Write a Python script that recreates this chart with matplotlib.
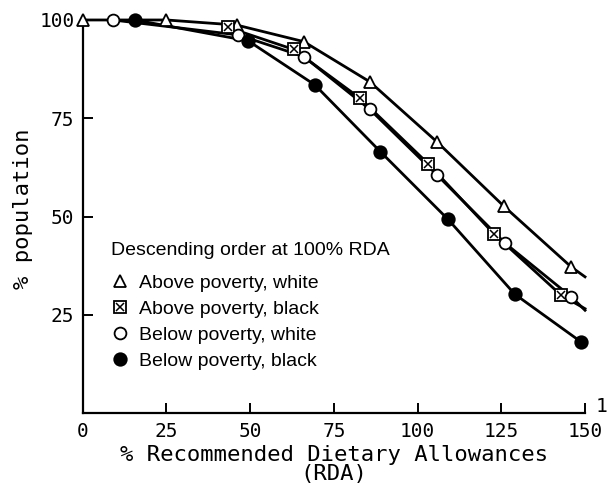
import matplotlib.pyplot as plt

# % RDA (x) vs % population (y)
above_white_x = [0, 25, 46, 66, 85.7, 105.8, 125.7, 145.9]
above_white_y = [100, 100, 98.7, 94.5, 84.3, 69.0, 52.7, 37.2]

above_black_x = [43.4, 63, 82.8, 103.1, 122.7, 142.9]
above_black_y = [98.1, 92.5, 80.1, 63.5, 45.7, 30.0]

below_white_x = [9, 46.4, 66, 85.7, 105.8, 126.2, 145.9]
below_white_y = [100, 96.2, 90.7, 77.3, 60.6, 43.2, 29.6]

below_black_x = [15.6, 49.4, 69.3, 88.9, 109.1, 129, 148.9]
below_black_y = [100, 94.7, 83.5, 66.5, 49.3, 30.3, 18.1]

# where the curves run out at the right edge
line_end_x = 150
above_white_end = 34.7
above_black_end = 26.6
below_white_end = 26.2

labels = ["Above poverty, white", "Above poverty, black",
          "Below poverty, white", "Below poverty, black"]
legend_title = "Descending order at 100% RDA"

mono = "DejaVu Sans Mono"
sans = "Liberation Sans"

fig = plt.figure(figsize=(6.11, 4.91), dpi=100)
ax = fig.add_axes([0.1355, 0.1582, 0.8220, 0.8011])

lw = 2.0
ms = 8.5
common = dict(linestyle="none", mec="black", mew=1.3, zorder=4, clip_on=False)

# curves
ax.plot(above_white_x + [line_end_x], above_white_y + [above_white_end],
        color="black", lw=lw, zorder=2, clip_on=False)
ax.plot(above_black_x + [line_end_x], above_black_y + [above_black_end],
        color="black", lw=lw, zorder=2, clip_on=False)
ax.plot(below_white_x + [line_end_x], below_white_y + [below_white_end],
        color="black", lw=lw, zorder=2, clip_on=False)
ax.plot(below_black_x, below_black_y, color="black", lw=lw, zorder=2, clip_on=False)

# markers
tri, = ax.plot(above_white_x, above_white_y, marker="^", ms=ms, mfc="white", **common)
box, = ax.plot(above_black_x, above_black_y, marker="s", ms=ms - 0.5, mfc="white", **common)
box_x, = ax.plot(above_black_x, above_black_y, marker="x", ms=ms - 2.5, color="black",
                 linestyle="none", mew=1.1, zorder=5, clip_on=False)
circ, = ax.plot(below_white_x, below_white_y, marker="o", ms=ms, mfc="white", **common)
dot, = ax.plot(below_black_x, below_black_y, marker="o", ms=ms + 0.5, mfc="black", **common)

ax.set_xlim(0, 150)
ax.set_ylim(0, 100)
ax.set_xticks([0, 25, 50, 75, 100, 125, 150])
ax.set_yticks([25, 50, 75, 100])
ax.spines["top"].set_visible(False)
ax.spines["right"].set_visible(False)
for s in ("left", "bottom"):
    ax.spines[s].set_linewidth(1.6)
ax.tick_params(direction="in", length=7, width=1.4, pad=6, labelsize=14)
for t in ax.get_xticklabels() + ax.get_yticklabels():
    t.set_fontfamily(mono)

ax.set_xlabel("% Recommended Dietary Allowances\n(RDA)", fontfamily=mono,
              fontsize=16, linespacing=0.95, labelpad=3)
ax.set_ylabel("% population", fontfamily=mono, fontsize=16)
ax.yaxis.set_label_coords(-0.1, 0.52)

leg = ax.legend([tri, (box, box_x), circ, dot], labels, title=legend_title,
                loc="upper left", bbox_to_anchor=(101 / 611, 1 - 232 / 491),
                bbox_transform=fig.transFigure, frameon=False,
                prop={"family": sans, "size": 14},
                title_fontproperties={"family": sans, "size": 14},
                alignment="left", borderpad=0, handlelength=1.0,
                handletextpad=0.45, labelspacing=0.43)
# a little more room between the title and the first entry
leg._legend_box.sep = 11

fig.text(601.7 / 611, 1 - 406.7 / 491, "1", fontfamily=mono, fontsize=14,
         ha="center", va="center")

fig.savefig("out.png", dpi=100)
